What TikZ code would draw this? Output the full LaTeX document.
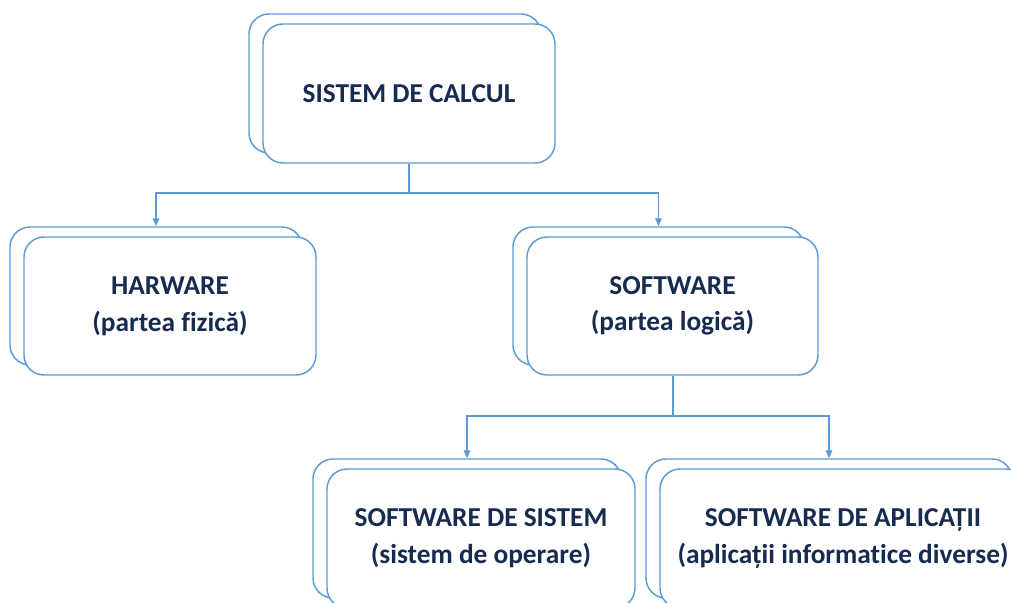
\documentclass[tikz,border=0pt]{standalone}
\usepackage{fontspec}
\setmainfont{Carlito}[RawFeature={-liga;-clig;-calt;-dlig}]
\usetikzlibrary{arrows.meta}
\definecolor{lineblue}{HTML}{5B9BD5}
\definecolor{textnavy}{HTML}{172A4F}

\begin{document}
\begin{tikzpicture}
[x=0.75pt,y=-0.75pt,
  boxDecorate/.style={shape=rectangle,rounded corners=15pt,draw=lineblue,
    line width=1.1pt,fill=white,align=center,text=textnavy,
    font=\fontsize{20.5}{27.5}\selectfont\bfseries},
  lineDecorate/.style={draw=lineblue,line width=1pt},
  stemDecorate/.style={draw=lineblue,line width=1.5pt},
  arrowDecorate/.style={lineDecorate,-{Triangle[length=6pt,width=5pt]}}]
\useasboundingbox (0,0) rectangle (1011,603);
\clip (0,0) rectangle (1011,603);
%% boxes, back copy first
\foreach \nodename/\x/\y/\w/\h/\txt in {
  sys/409/93.5/292/139/{SISTEM DE CALCUL},
  hw/170/306/292/138/{HARWARE\\(partea fizică)},
  sw/672.5/306/291/138/{SOFTWARE\\(partea logică)},
  sws/481/538.5/308/139/{SOFTWARE DE SISTEM\\(sistem de operare)},
  swa/843/538.5/366/139/{SOFTWARE DE APLICAȚII\\(aplicații informatice diverse)}}
{
  \node (\nodename b) at (\x-14,\y-10) [boxDecorate,
    minimum width=\w*0.75pt,minimum height=\h*0.75pt] {};
  \node (\nodename) at (\x,\y) [boxDecorate,
    minimum width=\w*0.75pt,minimum height=\h*0.75pt] {\txt};
}
%% branch points
\coordinate (j1) at (409,193);
\coordinate (j2) at (672.5,416);
%% edges or lines
\draw[stemDecorate] (sys.south) -- (j1);
\draw[stemDecorate] (sw.south) -- (j2);
\foreach \startnode/\endnode in {j1/hwb, j1/swb, j2/swsb, j2/swab}
{
  \draw[arrowDecorate] (\startnode) -| (\endnode.north);
}
\end{tikzpicture}
\end{document}
